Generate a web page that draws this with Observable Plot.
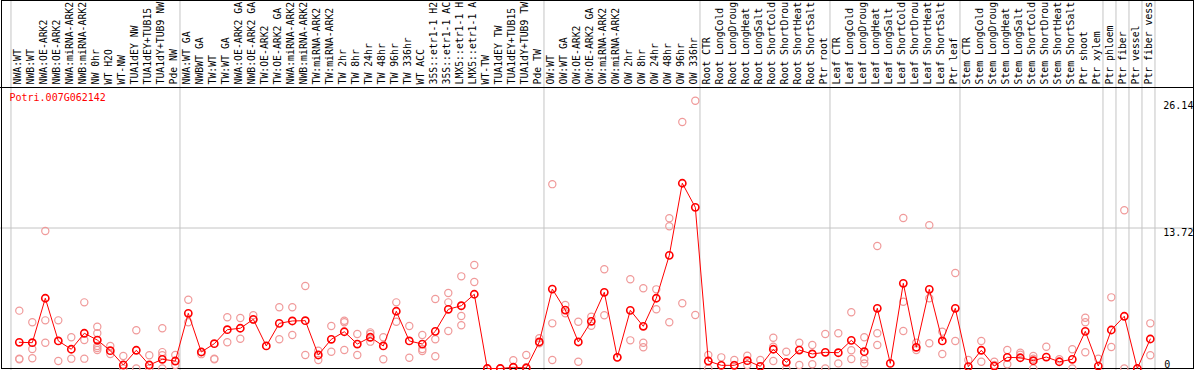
<!DOCTYPE html>
<html>
<head>
<meta charset="utf-8">
<script src="https://cdn.jsdelivr.net/npm/d3@7"></script>
<script src="https://cdn.jsdelivr.net/npm/@observablehq/plot@0.6"></script>
<style>
  html, body { margin: 0; padding: 0; background: #fff; }
  #chart svg { display: block; }
</style>
</head>
<body>
<div id="chart"></div>
<script>
const geneId = "Potri.007G062142";

// category labels as shown (the chart shows at most 14 characters)
const categories = [
  "NWA:WT","NWB:WT","NWA:OE-ARK2","NWB:OE-ARK2","NWA:miRNA-ARK2","NWB:miRNA-ARK2","NW 0hr","WT H2O","WT-NW","TUA1dEY NW","TUA1dEY+TUB15","TUA1dY+TUB9 NW","Pde NW",
  "NWA:WT GA","NWBWT GA","TW:WT","TW:WT GA","NWA:OE-ARK2 GA","NWB:OE-ARK2 GA","TW:OE-ARK2","TW:OE-ARK2 GA","NWA:miRNA-ARK2","NWB:miRNA-ARK2","TW:miRNA-ARK2","TW:miRNA-ARK2","TW 2hr","TW 8hr","TW 24hr","TW 48hr","TW 96hr","TW 336hr","WT ACC","35S::etr1-1 H2","35S::etr1-1 AC","LMX5::etr1-1 H","LMX5::etr1-1 A","WT-TW","TUA1dEY TW","TUA1dEY+TUB15","TUA1dY+TUB9 TW","Pde TW",
  "OW:WT","OW:WT GA","OW:OE-ARK2","OW:OE-ARK2 GA","OW:miRNA-ARK2","OW:miRNA-ARK2","OW 2hr","OW 8hr","OW 24hr","OW 48hr","OW 96hr","OW 336hr",
  "Root CTR","Root LongCold","Root LongDroug","Root LongHeat","Root LongSalt","Root ShortCold","Root ShortDrou","Root ShortHeat","Root ShortSalt","Ptr root",
  "Leaf CTR","Leaf LongCold","Leaf LongDroug","Leaf LongHeat","Leaf LongSalt","Leaf ShortCold","Leaf ShortDrou","Leaf ShortHeat","Leaf ShortSalt","Ptr leaf",
  "Stem CTR","Stem LongCold","Stem LongDroug","Stem LongHeat","Stem LongSalt","Stem ShortCold","Stem ShortDrou","Stem ShortHeat","Stem ShortSalt","Ptr shoot","Ptr xylem","Ptr phloem","Ptr fiber","Ptr vessel","Ptr fiber vess"
];

const means = [
  2.56,2.52,6.86,2.69,1.88,3.44,2.78,1.74,0.34,1.78,0.34,0.9,0.73,
  5.39,1.61,2.42,3.79,3.93,4.8,2.2,4.41,4.64,4.67,1.32,2.85,3.59,2.39,3.05,2.2,5.59,2.69,2.39,3.63,5.78,6.13,7.25,0,0,0.12,0.05,2.59,
  7.76,5.71,2.59,4.61,7.44,1.09,5.68,4.12,6.86,11.05,18.09,15.74,
  0.73,0.31,0.31,0.76,0.21,1.88,0.6,1.8,1.42,1.58,
  1.54,2.75,1.64,5.88,0.5,8.32,2.07,7.73,2.69,5.88,
  0.18,1.78,0.24,1.09,1.05,0.76,1.12,0.66,0.9,3.63,0.24,3.76,5.1,0,2.88
];

const replicates = [
  [5.65,0.96,0.9],[4.51,1.9,1.0],[13.43,4.7,2.52],[4.7,0.73],[3.05,0.96],[6.46,2.78,0.96],[4.08,3.44,2.2,2.0,1.8],[2.2,1.42],[1.22,0],[3.73,0],[1.29,0],[3.93,1.6,1.3,0],[1.32,0.34],
  [6.72,4.51],[1.6,1.4],[0.96,0.9],[5.0,2.56],[4.93,2.9],[5.2,4.75],[],[5.98,2.85],[5.98,3.27],[8.06,1.32],[1.74,0.83],[4.15,1.64],[4.67,4.51,1.8],[3.37,1.32],[3.53,3.37,2.62],[3.05,0.9],[6.46,4.57],[4.15,1.05],[3.27,1.9,1.71],[6.79,2.85,1.19],[7.37,6.46,3.66],[9.0,6.1,5.13,4.22],[10.1,8.45],[0],[0],[0.8,0.12],[1.32,0.12],[2.95,2.46],
  [18.0,4.41,0.83],[6.2,5.39],[4.57,0.66],[5.06,4.18],[9.69,5.2],[1.09],[8.71,2.75],[7.83,2.52,2.07],[7.73,5.78],[14.67,13.89,4.51],[24.07,6.37],[26.14,5.22],
  [1.32,0],[1.09],[0.83,0.34],[1.25,0.34],[0.83],[3.0,2.13,0.73],[1.64,0],[2.52,0.34],[2.29,0.41],[3.37,0],
  [3.44,0.5],[5.49,1.78,0.93],[3.05,0.9,0.5],[11.96,3.44,2.29],[],[14.7,6.52,3.66],[2.52,1.8],[14.0,6.86,2.46],[3.6,1.42],[9.33,2.69],
  [0.83],[2.69,0.66],[0.66,0.34],[1.8,0.41],[1.54,1.35],[1.22,0.96,0],[2.13],[0.9],[1.88,0],[4.96,4.51,1.58],[0.96],[6.95,2.1],[15.45,0],[],[4.41,1.29]
];

// index of last category in each separated block (-1 = before the first)
const separatorsAfter = [-1, 12, 40, 52, 62, 72, 83, 84, 85, 86, 87];
const tickValues = [26.14, 13.72];
const zeroTick = [0];
const gridValue = 13.72;
const yMax = 27.44;

// tables built from the arrays
const meanRows = means.map((v, i) => ({i, v}));
const repRows = replicates.flatMap((arr, i) => arr.map(v => ({i, v})));
const labelRows = categories.map((name, i) => ({i, name}));

const FONT = "DejaVu Sans Mono, Liberation Mono, monospace";

const chart = Plot.plot({
  width: 1194,
  height: 370,
  margin: 0,
  style: {background: "#fff", fontFamily: FONT, fontSize: "10px", overflow: "hidden"},
  x: {type: "linear", domain: [0, categories.length - 1], range: [18.8, 1149.8], axis: null},
  y: {type: "linear", domain: [0, yMax], range: [368, 87], axis: null},
  marks: [
    Plot.ruleY([gridValue], {stroke: "#c4c4c4", strokeWidth: 1}),
    Plot.ruleX(separatorsAfter, {x: d => d + 0.36, stroke: "#c4c4c4", strokeWidth: 1}),
    Plot.frame({stroke: "#000", insetLeft: 1, insetTop: 0, insetRight: 1, insetBottom: 2}),
    Plot.ruleY([yMax], {stroke: "#000", strokeWidth: 1}),
    Plot.text(labelRows, {
      x: "i", y: () => yMax, text: "name",
      rotate: -90, textAnchor: "start", lineAnchor: "middle",
      dx: -1, dy: -3, fill: "#000", fontSize: 9.8, fontFamily: FONT
    }),
    Plot.text([geneId], {
      frameAnchor: "top-left", text: d => d, textAnchor: "start", lineAnchor: "middle",
      dx: 9, dy: 97, fill: "red", fontSize: 10, fontFamily: FONT
    }),
    Plot.dot(repRows, {x: "i", y: "v", r: 3.6, stroke: "#f09a9a", strokeWidth: 1.2, fill: "none"}),
    Plot.line(meanRows, {x: "i", y: "v", stroke: "red", strokeWidth: 1}),
    Plot.dot(meanRows, {x: "i", y: "v", r: 3.6, stroke: "red", strokeWidth: 1.6, fill: "none"}),
    Plot.text(tickValues, {
      x: () => categories.length - 1, y: d => d, text: d => d.toFixed(2),
      textAnchor: "start", lineAnchor: "top", dx: 13, dy: 1, fill: "#000", fontSize: 10, fontFamily: FONT
    }),
    Plot.text(zeroTick, {
      x: () => categories.length - 1, y: d => d, text: d => String(d),
      textAnchor: "start", lineAnchor: "bottom", dx: 14, dy: -1, fill: "#000", fontSize: 10, fontFamily: FONT
    })
  ]
});

document.getElementById("chart").appendChild(chart);
</script>
</body>
</html>
